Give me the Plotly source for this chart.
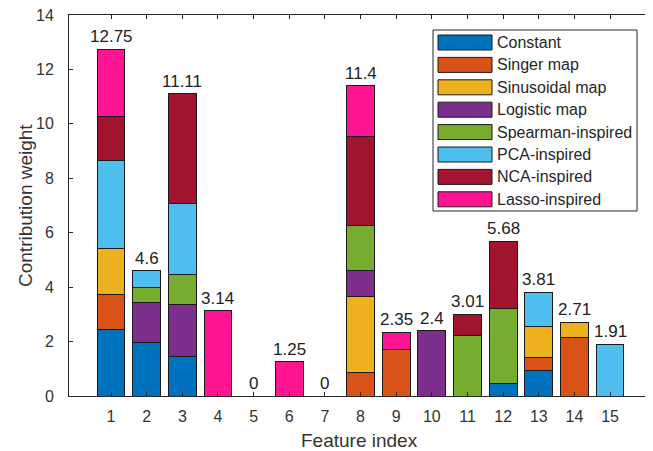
import plotly.graph_objects as go

features = list(range(1, 16))
series_names = ["Constant", "Singer map", "Sinusoidal map", "Logistic map",
                "Spearman-inspired", "PCA-inspired", "NCA-inspired", "Lasso-inspired"]
colors = ["#0072BD", "#D95319", "#EDB120", "#7E2F8E",
          "#77AC30", "#4DBEEE", "#A2142F", "#FF1493"]

constant   = [2.46, 1.95, 1.45, 0, 0, 0, 0, 0,    0,    0,   0,    0.46, 0.95, 0,    0]
singer     = [1.27, 0,    0,    0, 0, 0, 0, 0.87, 1.70, 0,   0,    0,    0.47, 2.15, 0]
sinusoidal = [1.68, 0,    0,    0, 0, 0, 0, 2.77, 0,    0,   0,    0,    1.12, 0.56, 0]
logistic   = [0,    1.48, 1.92, 0, 0, 0, 0, 0.99, 0,    2.4, 0,    0,    0,    0,    0]
spearman   = [0,    0.55, 1.10, 0, 0, 0, 0, 1.64, 0,    0,   2.21, 2.76, 0,    0,    0]
pca        = [3.24, 0.62, 2.59, 0, 0, 0, 0, 0,    0,    0,   0,    0,    1.27, 0,    1.91]
nca        = [1.62, 0,    4.05, 0, 0, 0, 0, 3.25, 0,    0,   0.80, 2.46, 0,    0,    0]
lasso      = [2.48, 0,    0,    3.14, 0, 1.25, 0, 1.88, 0.65, 0, 0,  0,    0,    0,    0]

series_values = [constant, singer, sinusoidal, logistic, spearman, pca, nca, lasso]

y_ticks = list(range(0, 15, 2))

FONT = "Liberation Sans, Arial, sans-serif"
TXT = "#333333"

fig = go.Figure()
for name, vals, col in zip(series_names, series_values, colors):
    fig.add_trace(go.Bar(
        x=features,
        y=[v if v != 0 else None for v in vals],
        name=name,
        marker=dict(color=col, line=dict(color="#1a1a1a", width=1)),
        width=0.78,
        showlegend=False,
    ))

totals = [sum(s[i] for s in series_values) for i in range(len(features))]
for f, t in zip(features, totals):
    fig.add_annotation(x=f, y=t, text=f"{round(t, 2):g}", showarrow=False,
                       yanchor="bottom", yshift=1,
                       font=dict(family=FONT, size=17, color="#222222"))

# The page body has an 8px default margin, so the figure is sized to fill
# the 653x451 window from (8, 8).
OFF = 8
W, H = 653 - OFF, 451 - OFF
ml, mr, mt, mb = 69 - OFF, 3, 15 - OFF, 55
pw, ph = W - ml - mr, H - mt - mb


def px(xs):
    return (xs - OFF - ml) / pw


def py(ys):
    return (OFF + H - mb - ys) / ph


# legend box
fig.add_shape(type="rect", xref="paper", yref="paper",
              x0=px(433), x1=px(637), y0=py(30), y1=py(211),
              line=dict(color="#262626", width=1), fillcolor="white", layer="above")
for k, (name, col) in enumerate(zip(series_names, colors)):
    cy = 42.5 + k * 22.4
    fig.add_shape(type="rect", xref="paper", yref="paper",
                  x0=px(438), x1=px(492), y0=py(cy - 7.5), y1=py(cy + 7.5),
                  line=dict(color="#1a1a1a", width=1), fillcolor=col, layer="above")
    fig.add_annotation(xref="paper", yref="paper", x=px(495), y=py(cy),
                       text=name, showarrow=False, xanchor="left", yanchor="middle",
                       font=dict(family=FONT, size=16, color="#262626"))

# axis titles
fig.add_annotation(xref="paper", yref="paper", x=px(359.5), y=py(440),
                   text="Feature index", showarrow=False, xanchor="center", yanchor="middle",
                   font=dict(family=FONT, size=19, color=TXT))
fig.add_annotation(xref="paper", yref="paper", x=px(26), y=py(206), textangle=-90,
                   text="Contribution weight", showarrow=False, xanchor="center", yanchor="middle",
                   font=dict(family=FONT, size=19, color=TXT))

axis_common = dict(showline=True, linecolor="#262626", linewidth=1, mirror="ticks",
                   ticks="inside", ticklen=4, tickcolor="#262626", showgrid=False,
                   zeroline=False, automargin=False, ticklabeloverflow="allow",
                   tickfont=dict(family=FONT, size=16, color=TXT))

fig.update_layout(
    width=W, height=H,
    margin=dict(l=ml, r=mr, t=mt, b=mb),
    barmode="stack",
    plot_bgcolor="white", paper_bgcolor="white",
    font=dict(family=FONT, color=TXT),
    xaxis=dict(range=[-0.18, 16.12], tickvals=features, ticktext=[str(f) for f in features],
               ticklabelstandoff=6, **axis_common),
    yaxis=dict(range=[0, 14.0001], tickvals=y_ticks, ticktext=[str(v) for v in y_ticks],
               ticklabelstandoff=11, **axis_common),
)

fig.write_html("out.html")
